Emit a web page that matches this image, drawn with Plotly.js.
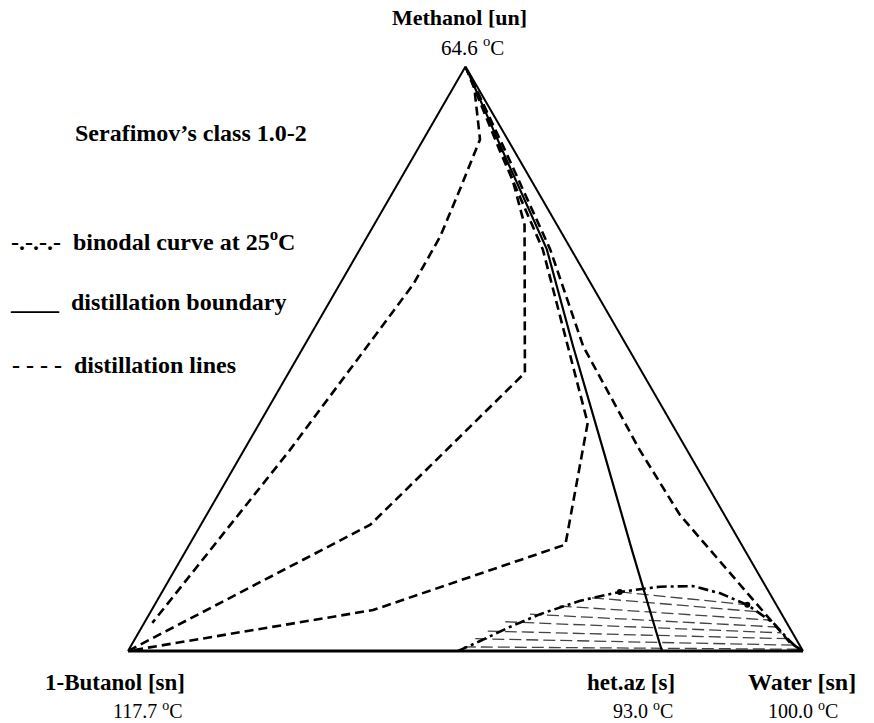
<!DOCTYPE html>
<html><head><meta charset="utf-8">
<script src="https://cdn.plot.ly/plotly-3.0.1.min.js"></script>
<style>html,body{margin:0;padding:0;background:#fff}#chart{width:874px;height:723px}</style>
</head><body><div id="chart"></div>
<script>
// compositions (mole fractions): a = Methanol, b = 1-Butanol, c = Water
const boundaryMethanol = [1.000, 0.858, 0.687, 0.521, 0.344, 0.173, 0.000];
const boundaryButanol  = [0.000, 0.017, 0.036, 0.080, 0.124, 0.167, 0.209];
const boundaryWater    = [0.000, 0.125, 0.277, 0.399, 0.532, 0.660, 0.791];

const line1Methanol = [1.000, 0.964, 0.875, 0.789, 0.709, 0.627, 0.344, 0.048];
const line1Butanol  = [0.000, 0.005, 0.041, 0.114, 0.183, 0.264, 0.588, 0.940];
const line1Water    = [0.000, 0.031, 0.084, 0.097, 0.108, 0.109, 0.068, 0.012];

const line2Methanol = [1.000, 0.909, 0.807, 0.729, 0.476, 0.344, 0.216, 0.000];
const line2Butanol  = [0.000, 0.009, 0.027, 0.048, 0.174, 0.356, 0.533, 1.000];
const line2Water    = [0.000, 0.082, 0.166, 0.223, 0.350, 0.300, 0.251, 0.000];

const line3Methanol = [1.000, 0.858, 0.687, 0.390, 0.182, 0.070, 0.000];
const line3Butanol  = [0.000, 0.021, 0.042, 0.124, 0.261, 0.602, 1.000];
const line3Water    = [0.000, 0.121, 0.271, 0.486, 0.557, 0.328, 0.000];

const line4Methanol = [1.000, 0.858, 0.687, 0.521, 0.344, 0.233, 0.014, 0.000];
const line4Butanol  = [0.000, 0.013, 0.031, 0.065, 0.070, 0.066, 0.012, 0.000];
const line4Water    = [0.000, 0.129, 0.282, 0.414, 0.586, 0.701, 0.974, 1.000];

const binodalMethanol = [0.000, 0.017, 0.041, 0.063, 0.086, 0.101, 0.110, 0.111, 0.099, 0.079, 0.048, 0.017, 0.000];
const binodalButanol  = [0.511, 0.470, 0.414, 0.358, 0.287, 0.221, 0.157, 0.108, 0.074, 0.043, 0.020, 0.011, 0.004];
const binodalWater    = [0.489, 0.513, 0.545, 0.579, 0.627, 0.678, 0.733, 0.781, 0.827, 0.878, 0.932, 0.972, 0.996];

// tie lines: organic (butanol-rich) end and aqueous end
const tieOrgMethanol = [0.101, 0.091, 0.077, 0.063, 0.050, 0.034, 0.021, 0.007];
const tieOrgButanol  = [0.221, 0.267, 0.322, 0.373, 0.416, 0.450, 0.475, 0.499];
const tieOrgWater    = [0.678, 0.642, 0.601, 0.564, 0.534, 0.516, 0.504, 0.494];
const tieAqMethanol  = [0.079, 0.067, 0.053, 0.041, 0.031, 0.021, 0.010, 0.003];
const tieAqButanol   = [0.043, 0.033, 0.024, 0.018, 0.016, 0.012, 0.009, 0.006];
const tieAqWater     = [0.878, 0.900, 0.923, 0.941, 0.953, 0.967, 0.981, 0.991];

const vertexNames = ['Methanol [un]', '1-Butanol [sn]', 'het.az [s]', 'Water [sn]'];
const vertexTemps = ['64.6', '117.7', '93.0', '100.0'];

const FONT = 'Liberation Serif, Times New Roman, serif';
const W = 874, H = 723;
const px = x => x / W, py = y => 1 - y / H;

const traces = [];
// tie lines (hatching)
const tA = [], tB = [], tC = [];
for (let i = 0; i < tieOrgMethanol.length; i++) {
  tA.push(tieOrgMethanol[i], tieAqMethanol[i], null);
  tB.push(tieOrgButanol[i], tieAqButanol[i], null);
  tC.push(tieOrgWater[i], tieAqWater[i], null);
}
traces.push({type:'scatterternary', mode:'lines', a:tA, b:tB, c:tC, connectgaps:false,
  line:{color:'#444', width:1.3, dash:'12px,5px'}, hoverinfo:'skip'});

const distLine = {color:'#000', width:2.6, dash:'9px,5px'};
[[line1Methanol,line1Butanol,line1Water],[line2Methanol,line2Butanol,line2Water],
 [line3Methanol,line3Butanol,line3Water],[line4Methanol,line4Butanol,line4Water]].forEach(l => {
  traces.push({type:'scatterternary', mode:'lines', a:l[0], b:l[1], c:l[2], line:distLine, hoverinfo:'skip'});
});
traces.push({type:'scatterternary', mode:'lines', a:boundaryMethanol, b:boundaryButanol, c:boundaryWater,
  line:{color:'#000', width:2.2}, hoverinfo:'skip'});
traces.push({type:'scatterternary', mode:'lines', a:binodalMethanol, b:binodalButanol, c:binodalWater,
  line:{color:'#000', width:2.6, dash:'10px,4px,3px,4px'}, hoverinfo:'skip'});
traces.push({type:'scatterternary', mode:'markers', a:[tieOrgMethanol[0], tieAqMethanol[0]],
  b:[tieOrgButanol[0], tieAqButanol[0]], c:[tieOrgWater[0], tieAqWater[0]],
  marker:{color:'#000', size:6}, hoverinfo:'skip'});

const axisStyle = lw => ({showticklabels:false, ticks:'', showgrid:false, linecolor:'#000', linewidth:lw, title:{text:''}});

const ann = (text, x, y, size, bold, xanchor) => ({
  text: bold ? '<b>' + text + '</b>' : text, x: px(x), y: py(y), xref:'paper', yref:'paper',
  xanchor: xanchor || 'center', yanchor:'middle', showarrow:false,
  font:{family:FONT, size:size, color:'#000'}
});

const annotations = [
  ann(vertexNames[0], 459, 17, 22, true),
  ann(vertexTemps[0] + ' <sup>o</sup>C', 472, 46, 21, false),
  ann(vertexNames[1], 115, 682, 23, true),
  ann(vertexTemps[1] + ' <sup>o</sup>C', 148, 710, 20, false),
  ann(vertexNames[2], 631, 682, 23, true),
  ann(vertexTemps[2] + ' <sup>o</sup>C', 643, 710, 20, false),
  ann(vertexNames[3], 802, 682, 24, true),
  ann(vertexTemps[3] + ' <sup>o</sup>C', 803, 710, 20, false),
  ann('Serafimov’s class 1.0-2', 73, 133, 24, true, 'left'),
  ann('-.-.-.-  binodal curve at 25<sup>o</sup>C', 9, 240, 24, true, 'left'),
  ann('____  distillation boundary', 8, 302, 24, true, 'left'),
  ann('- - - -  distillation lines', 10, 365, 24, true, 'left')
];

const layout = {
  width: W, height: H, margin:{l:0, r:0, t:0, b:0},
  paper_bgcolor:'#fff', showlegend:false, hovermode:false,
  font:{family:FONT, color:'#000'},
  ternary:{
    domain:{x:[128/W, 803/W], y:[1 - 668.7/H, 1 - 48.7/H]},
    bgcolor:'#fff', sum:1,
    aaxis: axisStyle(2), baxis: axisStyle(3), caxis: axisStyle(2)
  },
  annotations: annotations
};

Plotly.newPlot('chart', traces, layout, {displayModeBar:false, staticPlot:true});
</script></body></html>
